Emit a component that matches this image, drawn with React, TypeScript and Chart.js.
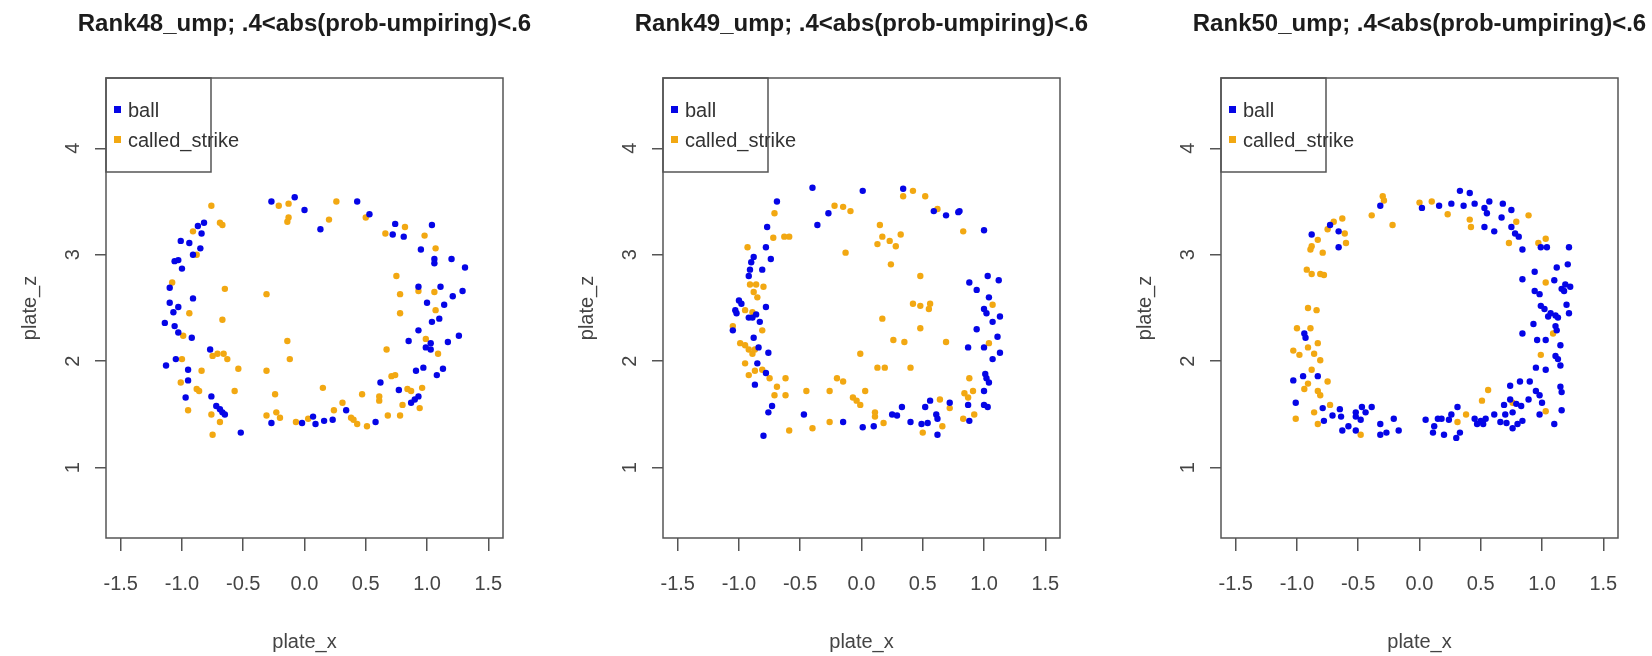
import React, { useEffect, useRef } from "react";
import { Chart, registerables } from "chart.js";

Chart.register(...registerables);

const FONT = "'Liberation Sans', Arial, Helvetica, sans-serif";

// ---------- axes ----------
const xTicks = [-1.5, -1.0, -0.5, 0.0, 0.5, 1.0, 1.5];
const yTicks = [1, 2, 3, 4];
const xLimits = [-1.62, 1.62];
const yLimits = [0.34, 4.66];
const xLabel = "plate_x";
const yLabel = "plate_z";

// ---------- series ----------
const seriesLabels = ["ball", "called_strike"];
const seriesColors = ["#0505E6", "#F2A812"];

const panelTitles = [
  "Rank48_ump; .4<abs(prob-umpiring)<.6",
  "Rank49_ump; .4<abs(prob-umpiring)<.6",
  "Rank50_ump; .4<abs(prob-umpiring)<.6",
];

// Panel 1 (Rank48) — [plate_x, plate_z]
const rank48Ball = [
  [-0.27, 3.5], [-0.08, 3.54], [0.0, 3.42], [0.13, 3.24], [0.43, 3.5], [0.53, 3.38], [0.74, 3.29], [0.72, 3.19],
  [0.81, 3.17], [1.04, 3.28], [0.95, 3.05], [1.06, 2.96], [1.06, 2.92], [1.2, 2.96], [1.31, 2.88], [0.93, 2.7],
  [1.11, 2.7], [1.29, 2.66], [1.21, 2.61], [1.0, 2.55], [1.14, 2.53], [1.04, 2.37], [1.1, 2.4], [0.93, 2.29],
  [0.85, 2.19], [0.99, 2.13], [1.03, 2.17], [1.03, 2.11], [1.17, 2.18], [1.26, 2.24], [0.91, 1.91], [0.97, 1.94],
  [1.08, 1.87], [1.13, 1.93], [0.62, 1.8], [0.77, 1.73], [0.87, 1.61], [0.9, 1.64], [0.93, 1.67], [0.58, 1.43],
  [0.34, 1.54], [0.23, 1.45], [0.16, 1.44], [0.09, 1.41], [0.07, 1.48], [-0.02, 1.42], [-0.27, 1.42], [-0.52, 1.33],
  [-0.82, 3.3], [-0.87, 3.27], [-0.84, 3.2], [-1.01, 3.13], [-0.94, 3.11], [-0.85, 3.06], [-0.91, 3.0], [-1.06, 2.94],
  [-1.03, 2.95], [-1.0, 2.87], [-1.1, 2.69], [-0.91, 2.59], [-1.1, 2.55], [-1.03, 2.51], [-1.07, 2.46], [-1.14, 2.36],
  [-1.06, 2.33], [-1.03, 2.27], [-0.92, 2.22], [-0.77, 2.11], [-1.13, 1.96], [-1.05, 2.02], [-0.95, 1.92], [-0.95, 1.82],
  [-0.97, 1.66], [-0.76, 1.67], [-0.72, 1.58], [-0.69, 1.55], [-0.67, 1.52], [-0.65, 1.5],
];
const rank48Strike = [
  [-0.76, 3.46], [-0.91, 3.22], [-0.88, 3.0], [-0.69, 3.3], [-0.67, 3.28], [-0.21, 3.46], [-0.13, 3.48], [-0.14, 3.31],
  [-0.13, 3.35], [0.26, 3.5], [0.2, 3.33], [0.5, 3.35], [0.66, 3.2], [0.82, 3.26], [0.98, 3.18], [1.07, 3.06],
  [0.75, 2.8], [0.78, 2.63], [0.93, 2.66], [1.06, 2.65], [1.07, 2.48], [0.78, 2.45], [0.99, 2.21], [0.67, 2.11],
  [1.09, 2.07], [0.71, 1.86], [0.74, 1.87], [0.84, 1.74], [0.87, 1.72], [0.96, 1.75], [0.94, 1.56], [0.8, 1.59],
  [0.78, 1.49], [0.68, 1.49], [0.61, 1.63], [0.61, 1.67], [0.47, 1.69], [0.51, 1.39], [0.43, 1.41], [0.4, 1.45],
  [0.38, 1.47], [0.31, 1.61], [0.24, 1.54], [0.15, 1.75], [0.03, 1.46], [-0.07, 1.43], [-0.2, 1.47], [-0.23, 1.52],
  [-0.24, 1.69], [-0.31, 1.49], [-0.31, 1.91], [-0.12, 2.02], [-0.14, 2.19], [-0.31, 2.63], [-0.65, 2.68], [-0.67, 2.39],
  [-0.75, 2.05], [-0.71, 2.07], [-0.66, 2.07], [-0.63, 2.02], [-0.54, 1.93], [-0.57, 1.72], [-0.84, 1.91], [-0.88, 1.74],
  [-0.86, 1.72], [-1.01, 1.8], [-1.0, 2.02], [-0.99, 2.24], [-0.94, 2.45], [-1.08, 2.74], [-0.95, 1.54], [-0.76, 1.5],
  [-0.69, 1.43], [-0.75, 1.31],
];

// Panel 2 (Rank49)
const rank49Ball = [
  [-0.4, 3.63], [0.01, 3.6], [0.34, 3.62], [-0.69, 3.5], [-0.27, 3.39], [-0.36, 3.28], [0.59, 3.41], [0.69, 3.37],
  [0.79, 3.4], [0.8, 3.41], [1.0, 3.23], [-0.77, 3.26], [-0.78, 3.07], [-0.74, 2.96], [-0.88, 2.98], [-0.9, 2.93],
  [-0.91, 2.86], [-0.92, 2.8], [-0.81, 2.86], [0.88, 2.74], [1.03, 2.8], [1.12, 2.76], [0.94, 2.67], [-0.78, 2.51],
  [-1.0, 2.57], [-0.98, 2.54], [-1.03, 2.48], [-1.02, 2.45], [-1.05, 2.29], [-0.92, 2.41], [-0.89, 2.41], [-0.86, 2.44],
  [-0.83, 2.37], [-0.88, 2.22], [-0.84, 2.13], [-0.76, 2.08], [-0.85, 1.98], [-0.78, 1.89], [-0.87, 1.78], [1.04, 2.6],
  [1.0, 2.49], [1.02, 2.45], [1.07, 2.37], [1.13, 2.42], [0.94, 2.3], [1.11, 2.23], [1.0, 2.13], [1.13, 2.08],
  [0.87, 2.13], [1.07, 2.02], [1.01, 1.88], [1.02, 1.84], [1.04, 1.8], [1.0, 1.72], [0.87, 1.59], [1.0, 1.59],
  [1.03, 1.57], [0.88, 1.44], [-0.76, 1.52], [-0.73, 1.58], [-0.47, 1.5], [-0.15, 1.43], [0.01, 1.38], [0.1, 1.39],
  [0.25, 1.5], [0.29, 1.49], [0.33, 1.57], [0.4, 1.43], [0.49, 1.41], [0.54, 1.42], [0.52, 1.57], [0.56, 1.63],
  [0.61, 1.5], [0.62, 1.46], [0.62, 1.31], [0.72, 1.61], [-0.8, 1.3],
];
const rank49Strike = [
  [-0.71, 3.39], [-0.72, 3.16], [-0.63, 3.17], [-0.59, 3.17], [-0.22, 3.46], [-0.15, 3.45], [-0.09, 3.41], [-0.13, 3.02],
  [0.42, 3.6], [0.52, 3.55], [0.34, 3.55], [0.62, 3.43], [0.15, 3.28], [0.17, 3.17], [0.13, 3.1], [0.23, 3.13],
  [0.32, 3.19], [0.28, 3.08], [0.24, 2.91], [0.48, 2.8], [0.83, 3.22], [-0.93, 3.07], [-0.91, 2.72], [-0.86, 2.72],
  [-0.8, 2.7], [-0.88, 2.65], [-0.85, 2.6], [-0.95, 2.48], [-0.89, 2.46], [-1.05, 2.33], [-0.81, 2.29], [-0.99, 2.17],
  [-0.95, 2.15], [-0.92, 2.11], [-0.89, 2.07], [-0.87, 2.11], [-0.95, 1.98], [-0.92, 1.87], [-0.87, 1.91], [-0.81, 1.92],
  [-0.75, 1.84], [-0.69, 1.76], [-0.71, 1.68], [-0.62, 1.68], [-0.62, 1.84], [-0.59, 1.35], [-0.45, 1.72], [-0.4, 1.37],
  [-0.26, 1.72], [-0.26, 1.43], [-0.2, 1.84], [-0.15, 1.81], [-0.07, 1.66], [-0.04, 1.63], [-0.01, 1.59], [0.03, 1.72],
  [-0.01, 2.07], [0.11, 1.52], [0.11, 1.48], [0.18, 1.42], [0.13, 1.94], [0.19, 1.94], [0.17, 2.4], [0.26, 2.2],
  [0.35, 2.18], [0.4, 1.94], [0.48, 2.31], [0.42, 2.54], [0.48, 2.52], [0.56, 2.54], [0.55, 2.49], [0.69, 2.18],
  [0.5, 1.33], [0.64, 1.64], [0.72, 1.56], [0.66, 1.39], [0.83, 1.46], [0.88, 1.84], [0.84, 1.7], [0.87, 1.66],
  [0.91, 1.72], [0.92, 1.5], [1.07, 2.53], [1.04, 2.17],
];

// Panel 3 (Rank50)
const rank50Ball = [
  [-0.88, 3.19], [-0.73, 3.28], [-0.66, 3.22], [-0.66, 3.07], [-0.32, 3.46], [0.02, 3.44], [0.16, 3.46], [0.26, 3.48],
  [0.33, 3.6], [0.36, 3.46], [0.41, 3.58], [0.45, 3.48], [0.53, 3.44], [0.55, 3.39], [0.57, 3.5], [0.53, 3.26],
  [0.61, 3.22], [0.68, 3.48], [0.67, 3.35], [0.75, 3.42], [0.75, 3.26], [0.78, 3.2], [0.81, 3.17], [0.84, 3.05],
  [0.99, 3.07], [1.04, 3.07], [1.22, 3.07], [0.84, 2.77], [0.94, 2.84], [1.12, 2.88], [1.21, 2.91], [0.94, 2.66],
  [0.98, 2.63], [1.1, 2.76], [1.16, 2.68], [1.19, 2.72], [1.23, 2.7], [1.18, 2.66], [0.99, 2.52], [1.02, 2.49],
  [1.05, 2.42], [1.07, 2.45], [1.11, 2.43], [1.13, 2.41], [1.22, 2.45], [1.2, 2.53], [0.93, 2.35], [1.11, 2.33],
  [1.12, 2.29], [0.84, 2.26], [0.96, 2.2], [1.03, 2.2], [1.15, 2.15], [1.11, 2.05], [1.13, 2.02], [1.15, 1.96],
  [0.95, 1.94], [1.03, 1.92], [1.15, 1.76], [1.16, 1.71], [0.9, 1.81], [0.82, 1.81], [0.95, 1.72], [0.98, 1.68],
  [1.0, 1.61], [0.74, 1.77], [0.74, 1.64], [0.89, 1.64], [0.98, 1.5], [1.16, 1.54], [1.1, 1.41], [0.79, 1.6],
  [0.83, 1.58], [0.76, 1.52], [0.69, 1.59], [0.7, 1.5], [0.84, 1.44], [0.8, 1.41], [0.76, 1.37], [0.66, 1.43],
  [0.71, 1.42], [0.61, 1.5], [0.54, 1.46], [0.5, 1.44], [0.47, 1.41], [0.45, 1.46], [0.52, 1.41], [0.33, 1.33],
  [0.3, 1.28], [0.31, 1.57], [0.24, 1.45], [0.26, 1.5], [0.2, 1.31], [0.18, 1.46], [0.15, 1.46], [0.12, 1.39],
  [0.11, 1.33], [0.05, 1.45], [-0.17, 1.35], [-0.21, 1.46], [-0.27, 1.33], [-0.32, 1.31], [-0.32, 1.41], [-0.39, 1.57],
  [-0.44, 1.52], [-0.47, 1.57], [-0.52, 1.52], [-0.52, 1.48], [-0.48, 1.45], [-0.52, 1.35], [-0.58, 1.39], [-0.63, 1.35],
  [-0.65, 1.55], [-0.64, 1.48], [-0.71, 1.49], [-0.79, 1.56], [-0.78, 1.44], [-1.03, 1.82], [-1.01, 1.61], [-0.95, 1.86],
  [-0.83, 1.86], [-0.94, 2.26], [-0.93, 2.22],
];
const rank50Strike = [
  [-0.3, 3.55], [-0.29, 3.51], [-0.22, 3.28], [-0.39, 3.37], [-0.63, 3.34], [-0.7, 3.31], [-0.75, 3.24], [-0.61, 3.2],
  [-0.6, 3.11], [-0.83, 3.14], [-0.88, 3.08], [-0.89, 3.05], [-0.79, 3.02], [-0.92, 2.86], [-0.88, 2.82], [-0.81, 2.82],
  [-0.78, 2.81], [-0.91, 2.5], [-0.84, 2.48], [-1.0, 2.31], [-0.89, 2.31], [-1.03, 2.1], [-0.98, 2.06], [-0.91, 2.13],
  [-0.83, 2.17], [-0.86, 2.07], [-0.81, 2.01], [-0.88, 1.92], [-0.94, 1.74], [-0.91, 1.79], [-0.83, 1.72], [-0.81, 1.68],
  [-0.75, 1.81], [-1.01, 1.46], [-0.86, 1.52], [-0.83, 1.41], [-0.73, 1.59], [-0.48, 1.31], [0.0, 3.49], [0.1, 3.5],
  [0.23, 3.38], [0.41, 3.33], [0.42, 3.26], [0.79, 3.31], [0.89, 3.37], [0.73, 3.11], [0.97, 3.11], [1.03, 3.15],
  [1.03, 2.74], [1.09, 2.26], [0.99, 2.06], [1.03, 1.53], [0.56, 1.73], [0.51, 1.63], [0.38, 1.5], [0.31, 1.43],
  [0.76, 1.61],
];

const panelBall = [rank48Ball, rank49Ball, rank50Ball];
const panelStrike = [rank48Strike, rank49Strike, rank50Strike];

// ---------- layout ----------
const PANEL_W = 557;
const PANEL_H = 656;
const panelLefts = [0, 557, 1115];

const rStylePlugin = {
  id: "rStyle",
  afterDraw(chart: any) {
    const { ctx, chartArea: a, scales } = chart;
    const y = scales.y;
    ctx.save();
    // plot box
    ctx.strokeStyle = "#555";
    ctx.lineWidth = 1.5;
    ctx.strokeRect(a.left, a.top, a.right - a.left, a.bottom - a.top);

    // rotated y tick labels (R style, parallel to axis)
    ctx.fillStyle = "#444";
    ctx.font = `20px ${FONT}`;
    ctx.textAlign = "center";
    ctx.textBaseline = "middle";
    y.ticks.forEach((t: any) => {
      const py = y.getPixelForValue(t.value);
      ctx.save();
      ctx.translate(a.left - 33, py);
      ctx.rotate(-Math.PI / 2);
      ctx.fillText(String(t.value), 0, 0);
      ctx.restore();
    });

    // title centred over the plot region
    const title = chart.options.plugins.rTitle?.text || "";
    ctx.fillStyle = "#1c1c1c";
    ctx.font = `bold 24px ${FONT}`;
    ctx.textAlign = "center";
    ctx.textBaseline = "middle";
    ctx.fillText(title, (a.left + a.right) / 2, 24);

    // legend box, top-left
    const lw = 105;
    const lh = 94;
    ctx.strokeStyle = "#555";
    ctx.lineWidth = 1.5;
    ctx.strokeRect(a.left, a.top, lw, lh);
    ctx.font = `20px ${FONT}`;
    ctx.textAlign = "left";
    chart.data.datasets.forEach((ds: any, i: number) => {
      const cy = a.top + 32 + i * 30;
      ctx.fillStyle = ds.backgroundColor;
      ctx.fillRect(a.left + 8, cy - 4, 7, 7);
      ctx.fillStyle = "#333";
      ctx.fillText(ds.label, a.left + 22, cy + 1);
    });
    ctx.restore();
  },
};

function Panel({ index }: { index: number }) {
  const ref = useRef<HTMLCanvasElement | null>(null);
  useEffect(() => {
    if (!ref.current) return;
    const toPts = (arr: number[][]) => arr.map(([x, y]) => ({ x, y }));
    const chart = new Chart(ref.current, {
      type: "scatter",
      data: {
        datasets: [
          {
            label: seriesLabels[0],
            data: toPts(panelBall[index]),
            backgroundColor: seriesColors[0],
            borderWidth: 0,
            pointRadius: 3.2,
            pointHoverRadius: 3.2,
          },
          {
            label: seriesLabels[1],
            data: toPts(panelStrike[index]),
            backgroundColor: seriesColors[1],
            borderWidth: 0,
            pointRadius: 3.2,
            pointHoverRadius: 3.2,
          },
        ],
      },
      options: {
        animation: false,
        responsive: false,
        devicePixelRatio: 1,
        events: [],
        layout: { padding: { left: 0, right: PANEL_W - 503, top: 78, bottom: 0 } },
        plugins: {
          legend: { display: false },
          tooltip: { enabled: false },
          title: { display: false },
          rTitle: { text: panelTitles[index] },
        } as any,
        scales: {
          x: {
            type: "linear",
            min: xLimits[0],
            max: xLimits[1],
            afterBuildTicks: (s: any) => {
              s.ticks = xTicks.map((v) => ({ value: v }));
            },
            afterFit: (s: any) => {
              s.height = 118;
            },
            grid: { drawOnChartArea: false, drawTicks: true, tickLength: 13, color: "#555", lineWidth: 1.5 },
            border: { display: false },
            ticks: {
              autoSkip: false,
              maxRotation: 0,
              padding: 21,
              color: "#444",
              font: { family: FONT, size: 20 },
              callback: (v: any) => Number(v).toFixed(1),
            },
            title: {
              display: true,
              text: xLabel,
              color: "#444",
              font: { family: FONT, size: 20 },
              padding: { top: 0, bottom: 2 },
            },
          },
          y: {
            type: "linear",
            min: yLimits[0],
            max: yLimits[1],
            afterBuildTicks: (s: any) => {
              s.ticks = yTicks.map((v) => ({ value: v }));
            },
            afterFit: (s: any) => {
              s.width = 106;
            },
            grid: { drawOnChartArea: false, drawTicks: true, tickLength: 11, color: "#555", lineWidth: 1.5 },
            border: { display: false },
            ticks: { display: false },
            title: {
              display: true,
              text: yLabel,
              color: "#444",
              font: { family: FONT, size: 20 },
              padding: { top: 18, bottom: 0 },
            },
          },
        },
      } as any,
      plugins: [rStylePlugin],
    });
    return () => chart.destroy();
  }, [index]);
  return (
    <canvas
      ref={ref}
      width={PANEL_W}
      height={PANEL_H}
      style={{ position: "absolute", left: panelLefts[index], top: 0, width: PANEL_W, height: PANEL_H }}
    />
  );
}

export default function App() {
  return (
    <div style={{ position: "absolute", left: 0, top: 0, width: 1652, height: 656, background: "#fff", overflow: "hidden" }}>
      <Panel index={0} />
      <Panel index={1} />
      <Panel index={2} />
    </div>
  );
}
